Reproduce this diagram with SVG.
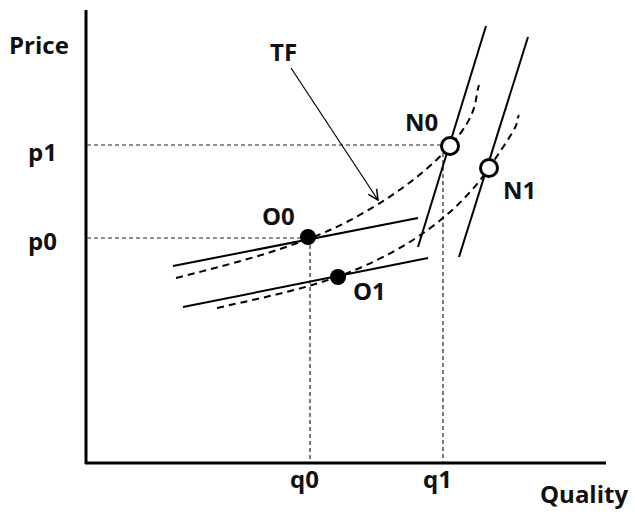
<svg xmlns="http://www.w3.org/2000/svg" width="635" height="515" viewBox="0 0 635 515">
<style>
.t{font-family:"Open Sans","Liberation Sans",sans-serif;font-weight:bold;font-size:24px;fill:#111}
.ax{stroke:#000;stroke-width:3;fill:none}
.s{stroke:#000;stroke-width:2;fill:none}
.g{stroke:#222;stroke-width:1.2;stroke-dasharray:4 3;fill:none}
.c{stroke:#000;stroke-width:2;stroke-dasharray:7 5;fill:none}
.open{fill:#fff;stroke:#000;stroke-width:3}
.fill{fill:#000}
</style>
<defs>
<marker id="ah" viewBox="0 0 12 12" refX="11" refY="6" markerWidth="12" markerHeight="12" markerUnits="userSpaceOnUse" orient="auto">
<path d="M1,1 L11,6 L1,11" fill="none" stroke="#000" stroke-width="1.5"/>
</marker>
</defs>
<g id="axes">
<line class="ax" x1="86" y1="10" x2="86" y2="464"/>
<line class="ax" x1="85" y1="463" x2="606" y2="463"/>
<text class="t" x="9" y="54">Price</text>
<text class="t" x="540" y="503">Quality</text>
<text class="t" x="28" y="161">p1</text>
<text class="t" x="28" y="250">p0</text>
<text class="t" x="290" y="488">q0</text>
<text class="t" x="423" y="488">q1</text>
</g>
<g id="connectors">
<line class="g" x1="87" y1="145" x2="443" y2="145"/>
<line class="g" x1="87" y1="238" x2="308" y2="238"/>
<line class="g" x1="310" y1="238" x2="310" y2="462"/>
<line class="g" x1="443" y1="146" x2="443" y2="462"/>
<path class="c" d="M176,278 C240,262 290,248 330,230 S420,180 450,146 S474,100 479,85"/>
<path class="c" d="M217,308 C270,296 310,288 350,272 S450,225 489,168 S512,130 519,115"/>
<line class="s" x1="173" y1="266" x2="418" y2="218"/>
<line class="s" x1="183" y1="307" x2="428" y2="258"/>
<line class="s" x1="486" y1="26" x2="418" y2="247"/>
<line class="s" x1="528" y1="37" x2="459" y2="257"/>
<line stroke="#000" stroke-width="1.2" x1="291" y1="68" x2="378" y2="200" marker-end="url(#ah)"/>
</g>
<g id="TF"><text class="t" x="270" y="61">TF</text></g>
<g id="O0"><circle class="fill" cx="308" cy="237" r="8"/><text class="t" x="262" y="225">O0</text></g>
<g id="O1"><circle class="fill" cx="338" cy="277" r="8"/><text class="t" x="353" y="300">O1</text></g>
<g id="N0"><circle class="open" cx="450" cy="146" r="8.5"/><text class="t" x="405" y="131">N0</text></g>
<g id="N1"><circle class="open" cx="489" cy="168" r="8.5"/><text class="t" x="503" y="199">N1</text></g>
</svg>
